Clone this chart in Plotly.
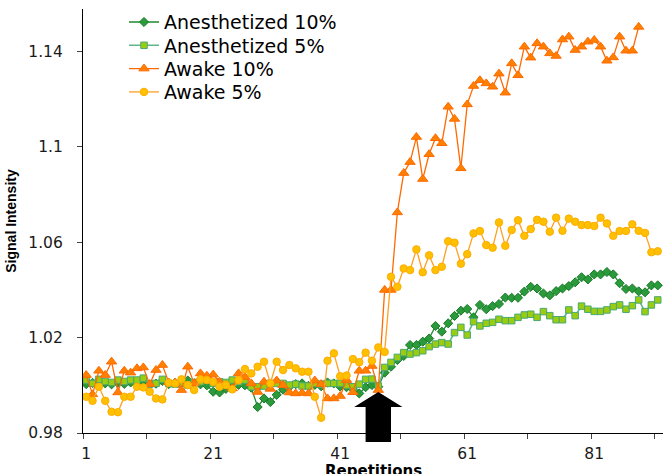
import plotly.graph_objects as go

# ---------------- data ----------------
SERIES_NAMES = ["Anesthetized 10%", "Anesthetized 5%", "Awake 10%", "Awake 5%"]

ANES_10 = [
    1.0005, 1.0010, 1.0018, 1.0008, 1.0004, 1.0010, 1.0006, 1.0012, 1.0008, 1.0015,
    1.0003, 1.0007, 1.0018, 1.0005, 1.0010, 1.0012, 1.0020, 1.0008, 1.0004, 1.0000,
    0.9973, 0.9970, 0.9985, 1.0005, 1.0002, 1.0000, 0.9990, 0.9909, 0.9945, 0.9930,
    0.9960, 0.9982, 0.9994, 1.0005, 1.0008, 0.9998, 1.0002, 0.9996, 1.0012, 1.0008,
    0.9995, 0.9992, 0.9984, 0.9966, 0.9992, 1.0001, 0.9994, 1.0053, 1.0078, 1.0106,
    1.0123, 1.0169, 1.0169, 1.0183, 1.0196, 1.0249, 1.0225, 1.0260, 1.0291, 1.0313,
    1.0320, 1.0285, 1.0337, 1.0319, 1.0332, 1.0341, 1.0368, 1.0367, 1.0367, 1.0393,
    1.0413, 1.0406, 1.0385, 1.0377, 1.0395, 1.0406, 1.0416, 1.0432, 1.0453, 1.0444,
    1.0465, 1.0465, 1.0475, 1.0465, 1.0428, 1.0404, 1.0406, 1.0394, 1.0390, 1.0419,
    1.0419,
]

ANES_5 = [
    1.0022, 1.0008, 1.0025, 1.0016, 1.0012, 1.0022, 1.0016, 1.0022, 1.0022, 1.0030,
    1.0005, 1.0008, 1.0025, 1.0008, 1.0005, 1.0008, 1.0001, 1.0012, 1.0015, 1.0022,
    1.0008, 1.0015, 1.0012, 1.0022, 1.0015, 1.0022, 0.9994, 0.9994, 0.9997, 1.0008,
    1.0008, 1.0008, 1.0001, 1.0005, 0.9997, 0.9997, 1.0008, 1.0005, 1.0008, 1.0008,
    1.0008, 1.0000, 0.9994, 1.0005, 1.0025, 1.0026, 0.9997, 1.0075, 1.0096, 1.0117,
    1.0137, 1.0131, 1.0137, 1.0145, 1.0162, 1.0173, 1.0179, 1.0173, 1.0221, 1.0243,
    1.0211, 1.0267, 1.0249, 1.0260, 1.0264, 1.0277, 1.0271, 1.0271, 1.0285, 1.0295,
    1.0298, 1.0285, 1.0309, 1.0292, 1.0275, 1.0275, 1.0316, 1.0292, 1.0332, 1.0319,
    1.0310, 1.0310, 1.0316, 1.0330, 1.0337, 1.0319, 1.0334, 1.0358, 1.0309, 1.0337,
    1.0358,
]

AWAKE_10 = [
    1.0043, 0.9962, 1.0061, 1.0043, 1.0099, 0.9970, 1.0061, 1.0053, 1.0071, 1.0075,
    1.0005, 1.0064, 1.0085, 1.0012, 1.0010, 0.9980, 1.0078, 1.0008, 1.0050, 1.0040,
    1.0045, 1.0015, 1.0000, 0.9987, 1.0050, 1.0035, 1.0008, 0.9972, 1.0015, 0.9985,
    1.0020, 1.0000, 0.9970, 0.9966, 0.9968, 0.9966, 1.0020, 1.0005, 0.9945, 0.9945,
    0.9955, 1.0022, 0.9971, 1.0061, 1.0061, 1.0081, 0.9980, 1.0400, 1.0400, 1.0725,
    1.0890, 1.0936, 1.1041, 1.0865, 1.0969, 1.1036, 1.1015, 1.1168, 1.1117, 1.0910,
    1.1178, 1.1255, 1.1279, 1.1266, 1.1252, 1.1307, 1.1227, 1.1350, 1.1300, 1.1420,
    1.1374, 1.1434, 1.1420, 1.1392, 1.1381, 1.1450, 1.1462, 1.1406, 1.1420, 1.1441,
    1.1448, 1.1420, 1.1361, 1.1375, 1.1462, 1.1403, 1.1403, 1.1503,
]

AWAKE_5 = [
    0.9952, 0.9935, 0.9994, 0.9935, 0.9889, 0.9887, 0.9952, 0.9952, 0.9994, 0.9991,
    0.9973, 0.9945, 0.9941, 1.0011, 1.0008, 1.0025, 1.0001, 0.9980, 1.0025, 1.0022,
    1.0015, 0.9994, 1.0001, 0.9983, 1.0022, 1.0068, 1.0050, 1.0078, 1.0099, 1.0008,
    1.0099, 1.0064, 1.0085, 1.0071, 1.0057, 1.0057, 0.9952, 0.9864, 1.0103, 1.0134,
    1.0038, 1.0041, 1.0110, 1.0097, 1.0137, 1.0103, 1.0159, 1.0140, 1.0455, 1.0413,
    1.0490, 1.0483, 1.0570, 1.0474, 1.0545, 1.0483, 1.0497, 1.0604, 1.0598, 1.0510,
    1.0550, 1.0637, 1.0647, 1.0588, 1.0577, 1.0683, 1.0585, 1.0651, 1.0692, 1.0627,
    1.0655, 1.0694, 1.0686, 1.0644, 1.0703, 1.0648, 1.0699, 1.0686, 1.0672, 1.0672,
    1.0668, 1.0703, 1.0679, 1.0627, 1.0647, 1.0647, 1.0675, 1.0648, 1.0639, 1.0558,
    1.0562,
]

X_TICK_VALUES = [1, 21, 41, 61, 81]
X_TICK_LABELS = ["1", "21", "41", "61", "81"]
Y_TICK_VALUES = [0.98, 1.02, 1.06, 1.1, 1.14]
Y_TICK_LABELS = ["0.98", "1.02", "1.06", "1.1", "1.14"]
X_TITLE = "Repetitions"
Y_TITLE = "Signal Intensity"
STIMULUS_REP = 47          # repetition marked by the arrow
STIMULUS_TIP_VALUE = 0.9972

# ---------------- styling ----------------
W, H = 663, 474
ML, MR, MT, MB = 83, 0, 9, 41
X_RANGE = [0.5, 91.83]
Y_RANGE = [0.98, 1.1578]

TICK_FONT = dict(family="DejaVu Sans", size=15.5, color="#1a1a1a")
LEGEND_FONT = dict(family="DejaVu Sans", size=19, color="#000000")

styles = [
    dict(line=dict(color="#1f8a2e", width=1.3),
         marker=dict(symbol="diamond", size=7, color="#2a9a3a",
                     line=dict(color="#1a7a2a", width=1))),
    dict(line=dict(color="#5fb58c", width=1.6),
         marker=dict(symbol="square", size=6.5, color="#9acc10",
                     line=dict(color="#4aa874", width=1))),
    dict(line=dict(color="#ff6a00", width=1.3),
         marker=dict(symbol="triangle-up", size=9, color="#ff8000",
                     line=dict(color="#ff6a00", width=1))),
    dict(line=dict(color="#ffa020", width=1.3),
         marker=dict(symbol="circle", size=7.5, color="#ffc000",
                     line=dict(color="#ffac00", width=1))),
]

all_values = [ANES_10, ANES_5, AWAKE_10, AWAKE_5]
legend_ids = ["legend", "legend2", "legend3", "legend4"]

fig = go.Figure()
for name, vals, st, lid in zip(SERIES_NAMES, all_values, styles, legend_ids):
    reps = list(range(1, len(vals) + 1))
    fig.add_trace(go.Scatter(
        x=reps, y=vals, name=name, mode="lines+markers",
        line=st["line"], marker=st["marker"], legend=lid,
    ))

# separate one-item legends so the row spacing can match the original
plot_h = H - MT - MB
plot_w = W - ML - MR
row0, row_gap = 22.0, 23.3
item_half = 0.5 * (1.3 * LEGEND_FONT["size"] + 3) + 5
legend_left_px = 124
layout_legends = {}
for i, lid in enumerate(legend_ids):
    top_px = row0 + i * row_gap - item_half
    layout_legends[lid] = dict(
        x=(legend_left_px - ML) / plot_w, xanchor="left",
        y=1 - (top_px - MT) / plot_h, yanchor="top",
        bgcolor="rgba(0,0,0,0)", borderwidth=0, font=LEGEND_FONT,
    )

# block arrow marking the stimulus onset (paper coordinates from axis ranges)
def px(v):
    return (v - X_RANGE[0]) / (X_RANGE[1] - X_RANGE[0])

def py(v):
    return (v - Y_RANGE[0]) / (Y_RANGE[1] - Y_RANGE[0])

head_half, shaft_half = 3.8, 2.0
head_base = STIMULUS_TIP_VALUE - 0.0063
shaft_bottom = Y_RANGE[0] - 0.0038
pts = [
    (STIMULUS_REP, STIMULUS_TIP_VALUE),
    (STIMULUS_REP + head_half, head_base),
    (STIMULUS_REP + shaft_half, head_base),
    (STIMULUS_REP + shaft_half, shaft_bottom),
    (STIMULUS_REP - shaft_half, shaft_bottom),
    (STIMULUS_REP - shaft_half, head_base),
    (STIMULUS_REP - head_half, head_base),
]
path = "M " + " L ".join(f"{px(a):.5f},{py(b):.5f}" for a, b in pts) + " Z"

# x-axis title sits partly below the bottom edge, as in the original crop
x_title_top_px = 460
x_title = dict(
    text=f"<b>{X_TITLE}</b>", xref="paper", yref="paper",
    x=0.5, xanchor="center", y=-(x_title_top_px - (H - MB)) / plot_h, yanchor="top",
    showarrow=False, font=dict(family="DejaVu Sans", size=15, color="#000"),
)

fig.update_layout(
    width=W, height=H,
    margin=dict(l=ML, r=MR, t=MT, b=MB, autoexpand=False),
    paper_bgcolor="white", plot_bgcolor="white",
    showlegend=True,
    shapes=[dict(type="path", path=path, xref="paper", yref="paper",
                 fillcolor="black", line=dict(color="black", width=0), layer="above")],
    annotations=[x_title],
    **layout_legends,
)

fig.update_xaxes(
    range=X_RANGE, showgrid=False, zeroline=False,
    showline=True, linecolor="black", linewidth=1.2,
    tickmode="array", tickvals=X_TICK_VALUES, ticktext=X_TICK_LABELS,
    ticks="", tickfont=TICK_FONT, ticklabelstandoff=6,
    minor=dict(tickmode="array", tickvals=[0.5 + 10 * k for k in range(10)],
               ticks="outside", ticklen=5, tickwidth=1, tickcolor="#444", showgrid=False),
)
fig.update_yaxes(
    range=Y_RANGE, showgrid=False, zeroline=False,
    showline=True, linecolor="black", linewidth=1.2,
    tickmode="array", tickvals=Y_TICK_VALUES, ticktext=Y_TICK_LABELS,
    ticks="outside", ticklen=5, tickwidth=1, tickcolor="#444",
    tickfont=TICK_FONT, ticklabelstandoff=11,
    title=dict(text=Y_TITLE, standoff=8,
               font=dict(family="Liberation Sans", size=14, color="#000", weight="bold")),
)

fig.write_html(
    "out.html",
    config={"displayModeBar": False},
    post_script="document.body.style.margin='0';document.body.style.overflow='hidden';",
)
